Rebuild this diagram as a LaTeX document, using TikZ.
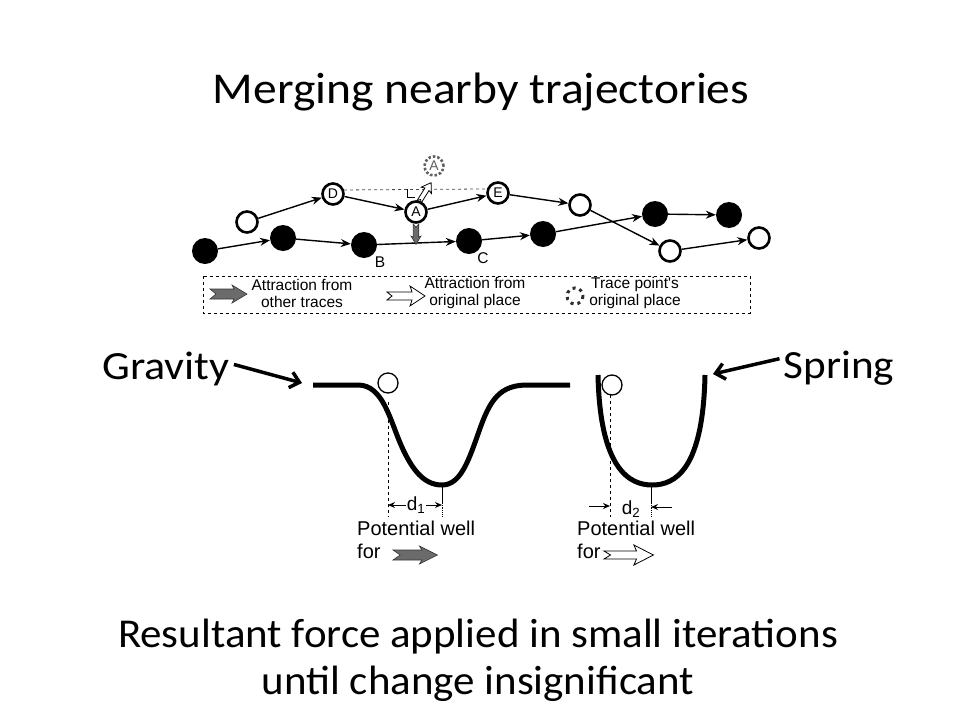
\documentclass[tikz,border=0pt]{standalone}
\usepackage{fontspec}
\setmainfont{Carlito}
\newfontfamily\arialfont{Liberation Sans}
\usetikzlibrary{arrows.meta,positioning}

\tikzset{
 opendot/.style={circle,draw,line width=2.6pt,fill=white,minimum size=21pt,inner sep=0pt,font=\arialfont\fontsize{14}{14}\selectfont},
 fulldot/.style={circle,fill=black,minimum size=26pt,inner sep=0pt},
 ghostdot/.style={circle,draw=gray!75!black,dash pattern=on 2.5pt off 2pt,line width=2.6pt,minimum size=19pt,inner sep=0pt,text=gray!75!black,font=\arialfont\fontsize{14}{14}\selectfont},
 trace/.style={-{Stealth[length=10pt,width=8pt]},line width=1.4pt},
 well/.style={line width=5pt},
 small/.style={font=\arialfont\fontsize{15.5}{17}\selectfont,align=center,inner sep=0pt},
 big/.style={font=\arialfont\fontsize{20}{23}\selectfont,align=left,inner sep=0pt},
 dlabel/.style={font=\arialfont\fontsize{19}{19}\selectfont,inner sep=1pt},
 dim/.style={-{Stealth[length=7pt,width=6pt]},line width=1pt},
 pointer/.style={-{Straight Barb[length=9pt,width=16pt]},line width=3.5pt},
 slide/.style={xscale=1.08,transform shape,inner sep=0pt},
 fatarrow/.pic={\filldraw[fill=black!58,draw=black!80,line width=0.6pt]
   (0,-5) -- (24,-5) -- (22,-9) -- (37,0) -- (22,9) -- (24,5) -- (0,5) -- (6,0) -- cycle;},
 hollowarrow/.pic={\filldraw[fill=white,draw=black,line width=0.8pt]
   (0,-4) -- (25,-4) -- (23,-10) -- (38,0) -- (23,10) -- (25,4) -- (0,4) -- (5,0) -- cycle;}
}

\begin{document}
\begin{tikzpicture}[x=1pt,y=-1pt]
 \useasboundingbox (0,0) rectangle (960,720);
 \node[slide,font=\fontsize{44}{50}\selectfont] (title) at (481,92) {Merging nearby trajectories};

 % the two traces
 \foreach \n/\x/\y in {f1/205/251,f2/283/238,B/364/245,C/469/241,f5/543/234,f6/655/214,f7/729/215}
  \node[fulldot] (\n) at (\x,\y) {};
 \foreach \n/\x/\y/\t in {o1/247/222/{},D/333/194/D,A/416/212/A,E/498/193/E,o5/580/205/{},o6/670/251/{},o7/759/238/{}}
  \node[opendot] (\n) at (\x,\y) {\t};
 \foreach \a/\b in {f1/f2,f2/B,B/C,C/f5,f5/f6,f6/f7}
  \draw[trace] (\a) -- (\b);
 \foreach \a/\b in {o1/D,D/A,A/E,E/o5,o5/o6,o6/o7}
  \draw[trace] (\a) -- (\b);
 \node[small] (lB) at (380,262) {B};
 \node[small] (lC) at (483,258) {C};

 % forces on A
 \node[ghostdot] (A0) at (434,166) {A};
 \draw[dashed,line width=0.8pt,gray!60!black] (D.20) -- (E.160);
 \draw[line width=0.8pt] (407,189) -- (407,197) -- (415,197);
 \path (416,224) pic[rotate=-90,scale=0.55] {fatarrow};
 \path (419,202) pic[rotate=58,scale=0.6] {hollowarrow};

 % legend
 \draw[dashed,line width=0.8pt] (203,276) rectangle (750,313);
 \path (210,294) pic {fatarrow};
 \node[small] (l1) at (302,293) {Attraction from\\other traces};
 \path (387,296) pic {hollowarrow};
 \node[small] (l2) at (475,293) {Attraction from\\original place};
 \draw[gray!35!black,line width=3pt,dash pattern=on 3pt off 4pt] (575,296) circle[radius=8];
 \node[small] (l3) at (635,293) {Trace point's\\original place};

 % gravity well
 \draw[well] (313,385) -- (358,385) .. controls (383,385) and (390,420) .. (401,445)
  .. controls (412,470) and (424,485) .. (442,485) .. controls (460,485) and (468,462) .. (477,437)
  .. controls (488,405) and (496,386) .. (525,385) -- (570,385);
 \draw[line width=1.3pt] (388,383) circle[radius=10];
 \draw[dashed,line width=0.8pt] (388,402) -- (388,517);
 \draw[line width=0.8pt] (442,485) -- (442,503);
 \draw[densely dotted,line width=0.8pt] (442,503) -- (442,517);
 \node[dlabel] (d1) at (416,505) {d\textsubscript{1}};
 \draw[dim] (d1.west) -- (388,505);
 \draw[dim] (d1.east) -- (442,505);
 \node[big,anchor=north west] (pw1) at (357,521) {Potential well\\for};
 \path (393,555) pic[xscale=1.2] {fatarrow};

 % spring well
 \draw[well] (598,375) .. controls (600,470) and (630,485) .. (652,485)
  .. controls (675,485) and (703,470) .. (705,375);
 \draw[line width=1.3pt] (612,385) circle[radius=10];
 \draw[dashed,line width=0.8pt] (610,395) -- (610,517);
 \draw[line width=0.8pt] (651,485) -- (651,503);
 \draw[densely dotted,line width=0.8pt] (651,503) -- (651,517);
 \node[dlabel] (d2) at (631,509) {d\textsubscript{2}};
 \coordinate (s1) at (589,506);
 \coordinate (s2) at (672,507);
 \draw[dim] (s1) -- (610,506);
 \draw[dim] (s2) -- (651,507);
 \node[big,anchor=north west] (pw2) at (577,521) {Potential well\\for};
 \path (604,555) pic[xscale=1.3] {hollowarrow};

 % pointers
 \node[slide,xscale=1.02,font=\fontsize{40}{40}\selectfont,anchor=base] (grav) at (166,379) {Gravity};
 \coordinate (gtip) at (302,383);
 \draw[pointer] (grav.east) ++(4,-4) -- (gtip);
 \node[slide,font=\fontsize{40}{40}\selectfont,anchor=base] (spr) at (839,378) {Spring};
 \coordinate (stip) at (713,374);
 \draw[pointer] (spr.west) ++(-4,-9) -- (stip);

 \node[slide,xscale=0.97,font=\fontsize{41}{47}\selectfont,align=center] (result) at (478,660) {Resultant force applied in small iterations\\until change insignificant};
\end{tikzpicture}
\end{document}
